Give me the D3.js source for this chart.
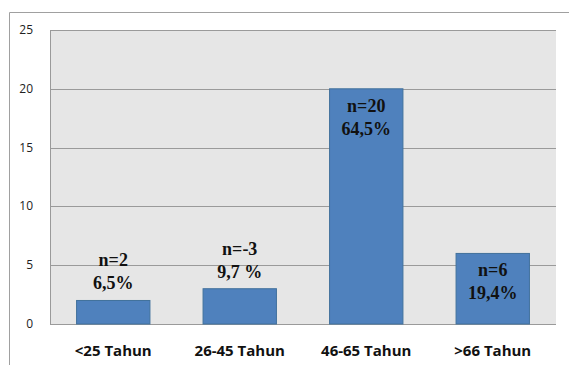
<!DOCTYPE html>
<html>
<head>
<meta charset="utf-8">
<script src="https://cdn.jsdelivr.net/npm/d3@7"></script>
<style>
body { margin: 0; background: #fff; }
</style>
</head>
<body>
<div id="chart"></div>
<script>
const categories = ['<25 Tahun', '26-45 Tahun', '46-65 Tahun', '>66 Tahun'];
const counts = [2, 3, 20, 6];
const countLabels = ['n=2', 'n=-3', 'n=20', 'n=6'];
const pctLabels = ['6,5%', '9,7 %', '64,5%', '19,4%'];
const yTicks = [0, 5, 10, 15, 20, 25];

const width = 569;
const height = 365;
const margin = {top: 30, right: 13, bottom: 41, left: 50};

const svg = d3.select('#chart')
  .append('svg')
  .attr('width', width)
  .attr('height', height);

// outer frame (only top & left visible)
svg.append('path')
  .attr('d', `M9.5,${height} V12.5 H${width}`)
  .attr('fill', 'none')
  .attr('stroke', '#a0a0a0')
  .attr('stroke-width', 1);

const x = d3.scaleBand()
  .domain(categories)
  .range([margin.left, width - margin.right])
  .paddingInner(0.42)
  .paddingOuter(0.21);

const y = d3.scaleLinear()
  .domain([0, 25])
  .range([height - margin.bottom, margin.top]);

// plot area
svg.append('rect')
  .attr('x', margin.left)
  .attr('y', margin.top)
  .attr('width', width - margin.right - margin.left)
  .attr('height', y(0) - y(25))
  .attr('fill', '#e6e6e6');

svg.append('g')
  .selectAll('line')
  .data(yTicks)
  .join('line')
  .attr('x1', margin.left)
  .attr('x2', width - margin.right)
  .attr('y1', d => Math.round(y(d)) + 0.5)
  .attr('y2', d => Math.round(y(d)) + 0.5)
  .attr('stroke', '#9a9a9a')
  .attr('stroke-width', 1.2);

svg.append('line')
  .attr('x1', margin.left + 0.5).attr('x2', margin.left + 0.5)
  .attr('y1', y(25)).attr('y2', y(0))
  .attr('stroke', '#9a9a9a');

// bars
svg.append('g')
  .selectAll('rect')
  .data(counts)
  .join('rect')
  .attr('x', (d, i) => x(categories[i]))
  .attr('y', d => y(d))
  .attr('width', x.bandwidth())
  .attr('height', d => y(0) - y(d))
  .attr('fill', '#4f81bd')
  .attr('stroke', '#41719c')
  .attr('stroke-width', 1);

// value labels
const labels = svg.append('g')
  .attr('font-family', '"Liberation Serif", "Times New Roman", serif')
  .attr('font-weight', 'bold')
  .attr('font-size', '18px')
  .attr('fill', '#111')
  .attr('text-anchor', 'middle');

counts.forEach((d, i) => {
  const cx = x(categories[i]) + x.bandwidth() / 2;
  const first = d < 5 ? y(d) - 34 : y(d) + 23;
  labels.append('text').attr('x', cx).attr('y', first).text(countLabels[i]);
  labels.append('text').attr('x', cx).attr('y', first + 23).text(pctLabels[i]);
});

// y axis labels
svg.append('g')
  .attr('font-family', '"Open Sans", sans-serif')
  .attr('font-size', '12px')
  .attr('fill', '#222')
  .attr('text-anchor', 'end')
  .selectAll('text')
  .data(yTicks)
  .join('text')
  .attr('x', 33)
  .attr('y', d => y(d) + 4)
  .text(d => d);

// x axis labels
svg.append('g')
  .attr('font-family', '"Open Sans", sans-serif')
  .attr('font-weight', 'bold')
  .attr('font-size', '15px')
  .attr('fill', '#111')
  .attr('text-anchor', 'middle')
  .selectAll('text')
  .data(categories)
  .join('text')
  .attr('x', d => x(d) + x.bandwidth() / 2)
  .attr('y', 356)
  .text(d => d);
</script>
</body>
</html>
